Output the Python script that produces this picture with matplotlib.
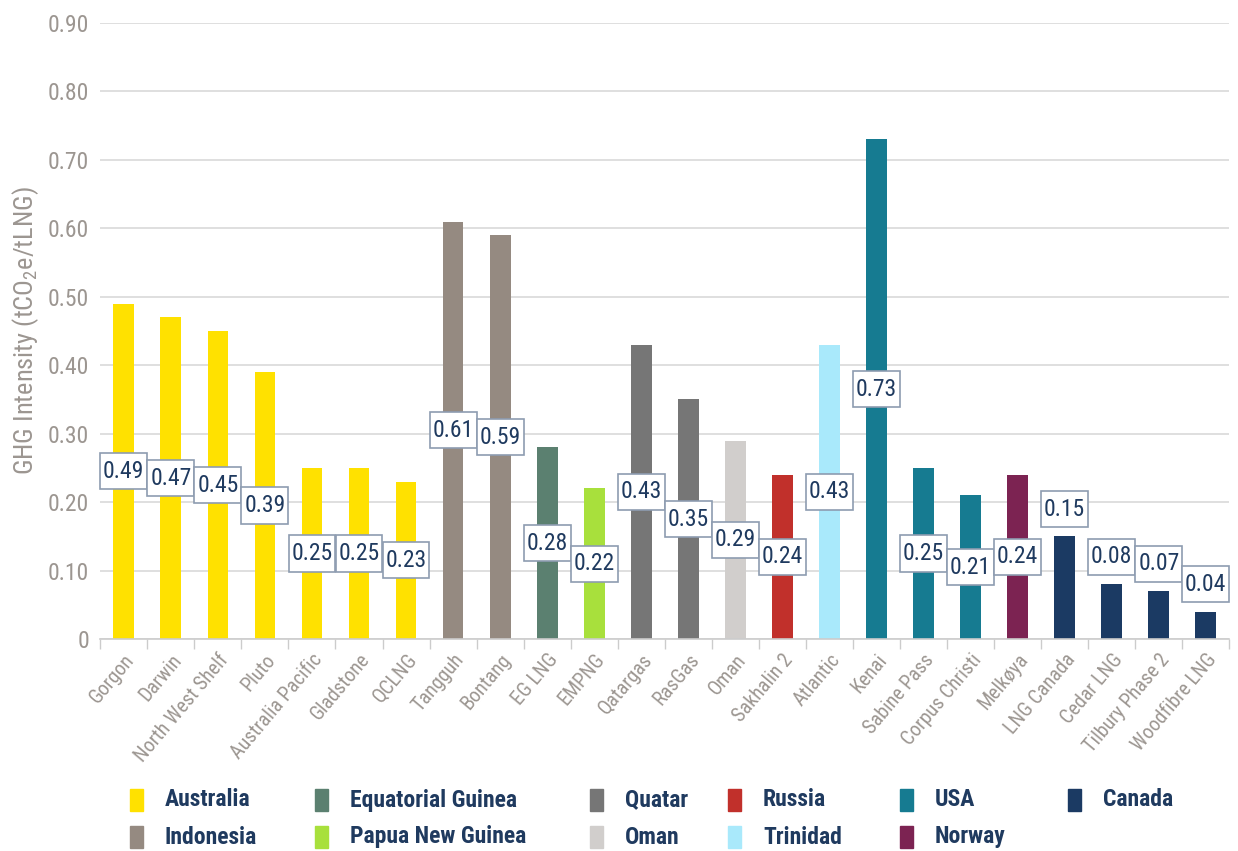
import numpy as np
import matplotlib
matplotlib.use('Agg')
import matplotlib.pyplot as plt
from matplotlib import font_manager
from matplotlib.patches import Rectangle
from matplotlib.path import Path

# pick a narrow face if one is installed
names = set(f.name for f in font_manager.fontManager.ttflist)
narrow = 'DejaVu Sans'
for cand in ['Roboto Condensed', 'Liberation Sans Narrow', 'DejaVu Sans Condensed', 'Open Sans Condensed']:
    if cand in names:
        narrow = cand
        break

plants = ['Gorgon', 'Darwin', 'North West Shelf', 'Pluto', 'Australia Pacific', 'Gladstone',
          'QCLNG', 'Tangguh', 'Bontang', 'EG LNG', 'EMPNG', 'Qatargas', 'RasGas', 'Oman',
          'Sakhalin 2', 'Atlantic', 'Kenai', 'Sabine Pass', 'Corpus Christi', 'Melkøya',
          'LNG Canada', 'Cedar LNG', 'Tilbury Phase 2', 'Woodfibre LNG']
intensity = [0.49, 0.47, 0.45, 0.39, 0.25, 0.25, 0.23, 0.61, 0.59, 0.28, 0.22, 0.43,
             0.35, 0.29, 0.24, 0.43, 0.73, 0.25, 0.21, 0.24, 0.15, 0.08, 0.07, 0.04]
country = ['Australia'] * 7 + ['Indonesia'] * 2 + ['Equatorial Guinea', 'Papua New Guinea',
           'Quatar', 'Quatar', 'Oman', 'Russia', 'Trinidad', 'USA', 'USA', 'USA', 'Norway',
           'Canada', 'Canada', 'Canada', 'Canada']

countries = ['Australia', 'Indonesia', 'Equatorial Guinea', 'Papua New Guinea', 'Quatar', 'Oman',
             'Russia', 'Trinidad', 'USA', 'Norway', 'Canada']
colours = {'Australia': '#ffe100', 'Indonesia': '#958a81', 'Equatorial Guinea': '#5b8070',
           'Papua New Guinea': '#a8e03c', 'Quatar': '#767676', 'Oman': '#d1cecc',
           'Russia': '#c1302b', 'Trinidad': '#a9e9fb', 'USA': '#167b91',
           'Norway': '#7c2352', 'Canada': '#1b3a63'}

grey = '#9c9691'
navy = '#1f3a5f'
W, H = 1238, 851


def tall_box(x0, y0, width, height, mutation_size):
    # rectangle with little side padding and more top/bottom padding
    px = 0.12 * mutation_size
    py = 0.28 * mutation_size
    return Path([(x0 - px, y0 - py), (x0 + width + px, y0 - py),
                 (x0 + width + px, y0 + height + py), (x0 - px, y0 + height + py),
                 (x0 - px, y0 - py)], closed=True)


plt.rcParams['mathtext.default'] = 'regular'
fig = plt.figure(figsize=(12.38, 8.51), dpi=100)
ax = fig.add_axes([0.081, 0.249, 0.912, 0.724])

x = np.arange(len(plants))
ax.bar(x, intensity, width=0.44, color=[colours[c] for c in country], zorder=2)

# value boxes: middle of the bar, above it for the short ones
for xi, v in zip(x, intensity):
    y = v / 2 if v >= 0.2 else v + 0.04
    ax.text(xi, y, f'{v:.2f}', ha='center', va='center', fontsize=17, color=navy,
            family=narrow, zorder=3,
            bbox=dict(boxstyle=tall_box, fc='white', ec='#8d9cb0', lw=1.2))

ax.set_xlim(-0.5, len(plants) - 0.5)
ax.set_ylim(0, 0.9)
ax.set_yticks(np.arange(0, 0.91, 0.1))
ax.set_yticklabels(['0'] + [f'{t:.2f}' for t in np.arange(0.1, 0.91, 0.1)],
                   fontsize=17, color=grey, family=narrow)
ax.grid(axis='y', color='#dcdcdc', lw=1.3, zorder=0)
ax.tick_params(axis='y', length=0, pad=8)

ax.set_xticks(x)
ax.set_xticklabels(plants, rotation=50, ha='right', rotation_mode='anchor',
                   fontsize=14.5, color=grey, family=narrow)
ax.tick_params(axis='x', length=0, pad=8)
ax.set_xticks(np.arange(-0.5, len(plants)), minor=True)
ax.tick_params(axis='x', which='minor', length=7, color='#cccccc', width=1)

for s in ['top', 'right', 'left']:
    ax.spines[s].set_visible(False)
ax.spines['bottom'].set_color('#cccccc')
ax.spines['bottom'].set_linewidth(1.2)

ax.set_ylabel('GHG Intensity (tCO$_2$e/tLNG)', fontsize=19, color=grey, family=narrow, labelpad=5)

# legend laid out by hand: two rows, uneven columns as in the original
col_px = [130, 315, 590, 728, 900, 1068]
row_px = [800, 837]
for i, c in enumerate(countries):
    cx = col_px[i // 2]
    cy = row_px[i % 2]
    fig.add_artist(Rectangle((cx / W, 1 - (cy + 11) / H), 13 / W, 22 / H,
                             transform=fig.transFigure, color=colours[c]))
    fig.text((cx + 35) / W, 1 - cy / H, c, ha='left', va='center', fontsize=17,
             weight='bold', color=navy, family=narrow)

fig.savefig('out.png', dpi=100)
